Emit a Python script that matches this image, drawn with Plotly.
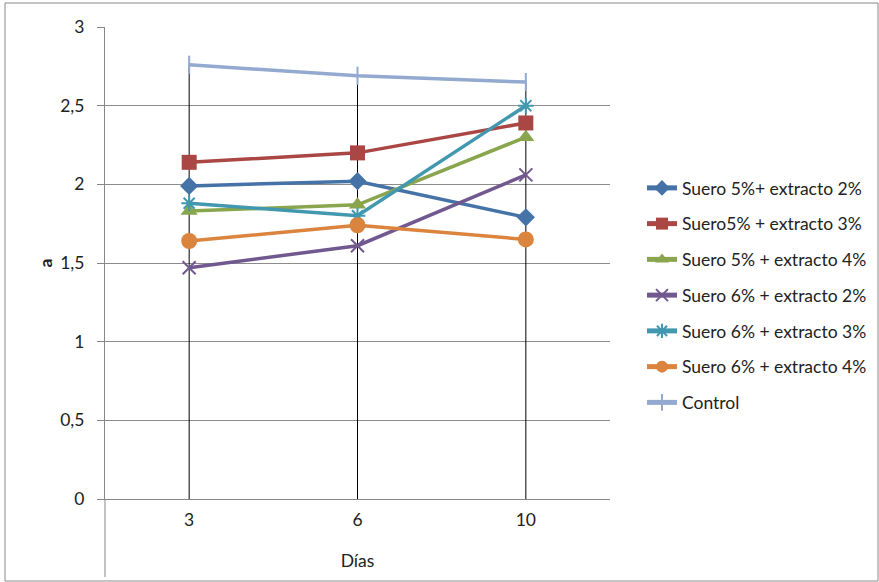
import plotly.graph_objects as go

# Días de almacenamiento (categorías del eje X)
dias = ["3", "6", "10"]

# Valores del parámetro a por tratamiento
suero5_ext2 = [1.99, 2.02, 1.79]
suero5_ext3 = [2.14, 2.20, 2.39]
suero5_ext4 = [1.83, 1.87, 2.30]
suero6_ext2 = [1.47, 1.61, 2.06]
suero6_ext3 = [1.88, 1.80, 2.50]
suero6_ext4 = [1.64, 1.74, 1.65]
control = [2.76, 2.69, 2.65]

nombres = [
    "Suero 5%+ extracto 2%",
    "Suero5% + extracto 3%",
    "Suero 5% + extracto 4%",
    "Suero 6% + extracto 2%",
    "Suero 6% + extracto 3%",
    "Suero 6% + extracto 4%",
    "Control",
]
series = [suero5_ext2, suero5_ext3, suero5_ext4, suero6_ext2, suero6_ext3, suero6_ext4, control]

colores = ["#4572A7", "#AA4643", "#89A54E", "#71588F", "#4198AF", "#DB843D", "#93A9CF"]
simbolos = ["diamond", "square", "triangle-up", "x-thin-open", "asterisk-open", "circle", "line-ns-open"]
tamanos = [14, 15, 15, 13, 13, 16, 13]

FONT = "Lato, 'Liberation Sans', sans-serif"
FS = 17.5

W, H = 879, 582
L, R, T, B = 105, 610, 27, 499  # plot area in pixels

fig = go.Figure()

# Líneas de proyección: desde el valor máximo de cada día hasta el eje
maximos = [max(s[i] for s in series) for i in range(len(dias))]
dx, dy = [], []
for d, m in zip(dias, maximos):
    dx += [d, d, None]
    dy += [m, 0, None]
fig.add_trace(go.Scatter(x=dx, y=dy, mode="lines", line=dict(color="black", width=1),
                         showlegend=False, hoverinfo="skip"))

for i, (nom, vals, col, sym, sz) in enumerate(zip(nombres, series, colores, simbolos, tamanos)):
    open_sym = sym.endswith("-open")
    fig.add_trace(go.Scatter(
        x=dias, y=vals, name=nom, mode="lines+markers",
        legendgroup=f"g{i}",
        line=dict(color=col, width=3.5),
        marker=dict(symbol=sym, size=sz, color=col,
                    line=dict(color=col, width=2 if open_sym else 0)),
    ))

fig.update_layout(
    width=W, height=H, autosize=False,
    margin=dict(l=L, r=W - R, t=T, b=H - B, pad=0),
    paper_bgcolor="white", plot_bgcolor="white",
    separators=",.",
    font=dict(family=FONT, size=FS, color="#222222"),
    showlegend=True,
    legend=dict(
        xref="container", yref="container",
        x=642 / W, xanchor="left",
        y=1 - 170 / H, yanchor="top",
        traceorder="grouped", tracegroupgap=10,
        font=dict(family=FONT, size=FS, color="#222222"),
        bgcolor="rgba(0,0,0,0)",
        itemsizing="constant",
    ),
    xaxis=dict(
        type="category", range=[-0.5, 2.5],
        showgrid=False, zeroline=False,
        showline=True, linecolor="#878787", linewidth=1,
        ticks="", tickfont=dict(size=FS), ticklabelstandoff=5,
        title=dict(text="Días", font=dict(size=FS), standoff=25),
    ),
    yaxis=dict(
        range=[0, 3], dtick=0.5, tick0=0,
        showgrid=True, gridcolor="#8c8c8c", gridwidth=1,
        zeroline=False,
        showline=True, linecolor="#878787", linewidth=1,
        ticks="outside", ticklen=7, tickcolor="#878787",
        tickfont=dict(size=FS), ticklabelstandoff=9,
        title=dict(text="<b>a</b>", font=dict(size=FS), standoff=3),
    ),
    shapes=[
        # prolongación del eje vertical bajo el eje X
        dict(type="line", xref="paper", yref="paper",
             x0=0, x1=0, y0=0, y1=-(577 - B) / (B - T),
             line=dict(color="#878787", width=1)),
        # marco del área del gráfico
        dict(type="rect", xref="paper", yref="paper",
             x0=(5 - L) / (R - L), x1=(878 - L) / (R - L),
             y0=-(581 - B) / (B - T), y1=1 + (T - 3) / (B - T),
             line=dict(color="#8a8a8a", width=1), layer="below"),
    ],
)

fig.write_html("out.html")
